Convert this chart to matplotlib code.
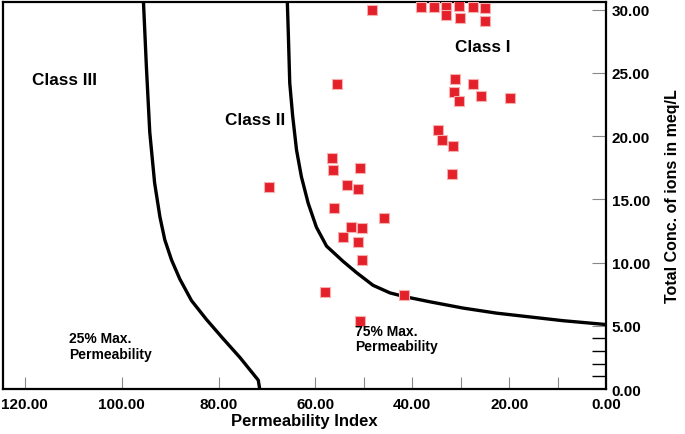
import numpy as np
import matplotlib
matplotlib.use("Agg")
import matplotlib.pyplot as plt
from matplotlib.ticker import FixedLocator, FormatStrFormatter

plt.rcParams['font.family'] = ['Liberation Sans', 'DejaVu Sans']

# Sample points: permeability index vs total concentration (meq/L)
perm_index = [48.3, 38.2, 35.5, 33.1, 33.1, 30.4, 30.2, 27.5, 25.0, 25.0,
              55.6, 31.2, 27.5, 31.4, 30.4, 25.8, 19.8,
              34.7, 33.9, 31.6, 31.8,
              56.6, 56.4, 50.8, 53.5, 51.2, 56.2, 45.9, 52.7, 50.4, 54.3,
              51.2, 50.4, 58.1, 41.7, 69.6, 50.8]
total_conc = [30.0, 30.2, 30.2, 30.2, 29.6, 30.3, 29.3, 30.2, 30.1, 29.1,
              24.1, 24.5, 24.1, 23.5, 22.8, 23.2, 23.0,
              20.5, 19.7, 19.2, 17.0,
              18.3, 17.3, 17.5, 16.1, 15.8, 14.3, 13.5, 12.8, 12.7, 12.0,
              11.6, 10.2, 7.7, 7.4, 16.0, 5.4]

# 25% max permeability boundary
curve25_x = [95.5, 94.9, 94.2, 93.2, 92.1, 91.1, 89.7, 88.0, 85.6, 82.5,
             79.1, 75.6, 71.8, 71.5]
curve25_y = [30.6, 25.5, 20.3, 16.3, 13.6, 11.8, 10.2, 8.7, 7.0, 5.5,
             4.0, 2.5, 0.7, 0.0]

# 75% max permeability boundary
curve75_x = [65.8, 65.6, 65.3, 64.7, 63.9, 62.9, 61.5, 59.8, 57.7, 54.3,
             51.5, 48.1, 44.6, 41.5, 36.4, 29.5, 22.6, 15.7, 8.8, 0.0]
curve75_y = [30.6, 28.2, 24.2, 21.6, 18.9, 16.8, 14.7, 12.8, 11.3, 10.1,
             9.2, 8.2, 7.6, 7.3, 6.9, 6.4, 6.0, 5.7, 5.4, 5.1]

x_major = [120, 100, 80, 60, 40, 20, 0]
x_minor = [50, 30, 10]
y_major = [0, 5, 10, 15, 20, 25, 30]
y_minor = [1, 2, 3, 4]

fig = plt.figure(figsize=(6.85, 4.35), dpi=100)
ax = fig.add_axes([0.0044, 0.1034, 0.8803, 0.8896])

ax.plot(curve25_x, curve25_y, color='black', lw=2.4, zorder=2,
        solid_joinstyle='round')
ax.plot(curve75_x, curve75_y, color='black', lw=2.4, zorder=2,
        solid_joinstyle='round')
ax.scatter(perm_index, total_conc, marker='s', s=60, color='#e4202a',
           edgecolors='#f6b0b0', linewidths=0.8, zorder=3)

ax.set_xlim(124.5, 0)
ax.set_ylim(0, 30.6)

ax.xaxis.set_major_locator(FixedLocator(x_major))
ax.xaxis.set_minor_locator(FixedLocator(x_minor))
ax.yaxis.set_major_locator(FixedLocator(y_major))
ax.yaxis.set_minor_locator(FixedLocator(y_minor))
ax.xaxis.set_major_formatter(FormatStrFormatter('%.2f'))
ax.yaxis.set_major_formatter(FormatStrFormatter('%.2f'))

ax.yaxis.tick_right()
ax.yaxis.set_label_position('right')
ax.tick_params(axis='x', which='both', direction='in', length=9, width=0.8,
               color='#888888', pad=6, labelsize=11)
ax.tick_params(axis='y', which='major', direction='in', length=10, width=0.8,
               color='#888888', pad=4, labelsize=11)
ax.tick_params(axis='y', which='minor', direction='in', length=10, width=1.0,
               color='black')
for lab in ax.get_xticklabels() + ax.get_yticklabels():
    lab.set_fontweight('bold')

for sp in ax.spines.values():
    sp.set_linewidth(1.6)

ax.set_xlabel('Permeability Index', fontsize=12, fontweight='bold', labelpad=1)
ax.set_ylabel('Total Conc. of ions in meq/L', fontsize=11.5, fontweight='bold',
              labelpad=11)

ax.text(111.8, 24.5, 'Class III', fontsize=12.3, fontweight='bold',
        ha='center', va='center')
ax.text(72.5, 21.3, 'Class II', fontsize=12.3, fontweight='bold',
        ha='center', va='center')
ax.text(25.4, 27.1, 'Class I', fontsize=12.3, fontweight='bold',
        ha='center', va='center')
ax.text(110.8, 3.4, '25% Max.\nPermeability', fontsize=10, fontweight='bold',
        ha='left', va='center', linespacing=1.15)
ax.text(51.9, 4.0, '75% Max.\nPermeability', fontsize=10, fontweight='bold',
        ha='left', va='center', linespacing=1.15)

fig.savefig('out.png', dpi=100)
